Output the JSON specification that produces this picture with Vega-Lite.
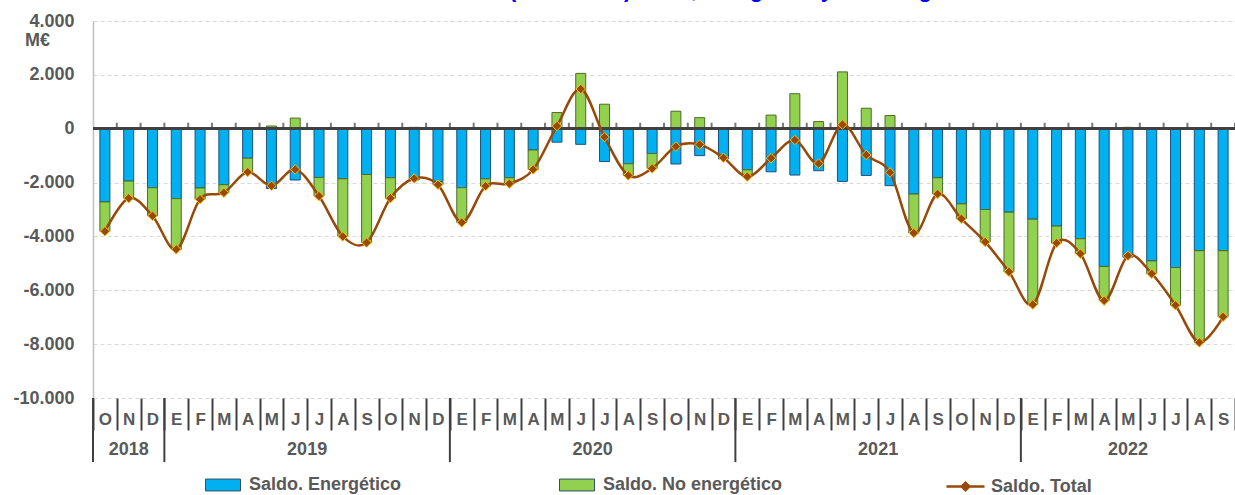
{
  "$schema": "https://vega.github.io/schema/vega-lite/v6.json",
  "width": 1142,
  "height": 377,
  "autosize": {"type": "none"},
  "padding": {"left": 93, "top": 21, "right": 0, "bottom": 97},
  "background": "white",
  "title": {
    "text": "Gráf. Saldo comercial (millones €): total, energético y no energético",
    "subtitle": "______________________________________________________________________",
    "color": "#0000FF",
    "subtitleColor": "#0000FF",
    "font": "Liberation Sans",
    "subtitleFont": "Liberation Sans",
    "fontSize": 22,
    "subtitleFontSize": 22,
    "fontWeight": "bold",
    "subtitleFontWeight": "bold",
    "subtitlePadding": -22,
    "anchor": "middle",
    "frame": "group",
    "dx": -34,
    "offset": 10
  },
  "datasets": {
    "meses": [
      {"mes": "2018_10", "energetico": -2720, "no_energetico": -1090, "total": -3810},
      {"mes": "2018_11", "energetico": -1945, "no_energetico": -635, "total": -2580},
      {"mes": "2018_12", "energetico": -2190, "no_energetico": -1045, "total": -3235},
      {"mes": "2019_01", "energetico": -2595, "no_energetico": -1885, "total": -4480},
      {"mes": "2019_02", "energetico": -2200, "no_energetico": -420, "total": -2620},
      {"mes": "2019_03", "energetico": -2080, "no_energetico": -295, "total": -2375},
      {"mes": "2019_04", "energetico": -1095, "no_energetico": -515, "total": -1610},
      {"mes": "2019_05", "energetico": -2220, "no_energetico": 100, "total": -2120},
      {"mes": "2019_06", "energetico": -1905, "no_energetico": 395, "total": -1510},
      {"mes": "2019_07", "energetico": -1810, "no_energetico": -690, "total": -2500},
      {"mes": "2019_08", "energetico": -1860, "no_energetico": -2140, "total": -4000},
      {"mes": "2019_09", "energetico": -1700, "no_energetico": -2530, "total": -4230},
      {"mes": "2019_10", "energetico": -1820, "no_energetico": -760, "total": -2580},
      {"mes": "2019_11", "energetico": -1900, "no_energetico": 50, "total": -1850},
      {"mes": "2019_12", "energetico": -1970, "no_energetico": -110, "total": -2080},
      {"mes": "2020_01", "energetico": -2190, "no_energetico": -1290, "total": -3480},
      {"mes": "2020_02", "energetico": -1860, "no_energetico": -270, "total": -2130},
      {"mes": "2020_03", "energetico": -1820, "no_energetico": -220, "total": -2040},
      {"mes": "2020_04", "energetico": -790, "no_energetico": -725, "total": -1515},
      {"mes": "2020_05", "energetico": -500, "no_energetico": 600, "total": 100},
      {"mes": "2020_06", "energetico": -580, "no_energetico": 2055, "total": 1475},
      {"mes": "2020_07", "energetico": -1220, "no_energetico": 910, "total": -310},
      {"mes": "2020_08", "energetico": -1300, "no_energetico": -435, "total": -1735},
      {"mes": "2020_09", "energetico": -920, "no_energetico": -555, "total": -1475},
      {"mes": "2020_10", "energetico": -1310, "no_energetico": 650, "total": -660},
      {"mes": "2020_11", "energetico": -1000, "no_energetico": 410, "total": -590},
      {"mes": "2020_12", "energetico": -1120, "no_energetico": 40, "total": -1080},
      {"mes": "2021_01", "energetico": -1525, "no_energetico": -255, "total": -1780},
      {"mes": "2021_02", "energetico": -1600, "no_energetico": 505, "total": -1095},
      {"mes": "2021_03", "energetico": -1720, "no_energetico": 1300, "total": -420},
      {"mes": "2021_04", "energetico": -1560, "no_energetico": 265, "total": -1295},
      {"mes": "2021_05", "energetico": -1955, "no_energetico": 2110, "total": 155},
      {"mes": "2021_06", "energetico": -1735, "no_energetico": 760, "total": -975},
      {"mes": "2021_07", "energetico": -2115, "no_energetico": 490, "total": -1625},
      {"mes": "2021_08", "energetico": -2425, "no_energetico": -1450, "total": -3875},
      {"mes": "2021_09", "energetico": -1820, "no_energetico": -605, "total": -2425},
      {"mes": "2021_10", "energetico": -2790, "no_energetico": -555, "total": -3345},
      {"mes": "2021_11", "energetico": -3000, "no_energetico": -1205, "total": -4205},
      {"mes": "2021_12", "energetico": -3100, "no_energetico": -2215, "total": -5315},
      {"mes": "2022_01", "energetico": -3360, "no_energetico": -3170, "total": -6530},
      {"mes": "2022_02", "energetico": -3615, "no_energetico": -630, "total": -4245},
      {"mes": "2022_03", "energetico": -4085, "no_energetico": -555, "total": -4640},
      {"mes": "2022_04", "energetico": -5115, "no_energetico": -1270, "total": -6385},
      {"mes": "2022_05", "energetico": -4770, "no_energetico": 50, "total": -4720},
      {"mes": "2022_06", "energetico": -4910, "no_energetico": -475, "total": -5385},
      {"mes": "2022_07", "energetico": -5155, "no_energetico": -1400, "total": -6555},
      {"mes": "2022_08", "energetico": -4530, "no_energetico": -3405, "total": -7935},
      {"mes": "2022_09", "energetico": -4530, "no_energetico": -2455, "total": -6985}
    ],
    "anios": [
      {"anio": "2018", "inicio": "2018_10", "centro": "2018_11", "meses": 3},
      {"anio": "2019", "inicio": "2019_01", "centro": "2019_06", "meses": 12},
      {"anio": "2020", "inicio": "2020_01", "centro": "2020_06", "meses": 12},
      {"anio": "2021", "inicio": "2021_01", "centro": "2021_06", "meses": 12},
      {"anio": "2022", "inicio": "2022_01", "centro": "2022_05", "meses": 9}
    ]
  },
  "data": {"name": "meses"},
  "config": {
    "font": "Liberation Sans",
    "view": {"stroke": null},
    "axis": {"labelFont": "Liberation Sans", "titleFont": "Liberation Sans"},
    "legend": {"labelFont": "Liberation Sans"}
  },
  "layer": [
    {
      "transform": [{"fold": ["energetico", "no_energetico"], "as": ["serie", "valor"]}],
      "mark": {"type": "bar", "size": 10, "strokeWidth": 1},
      "encoding": {
        "x": {
          "field": "mes",
          "type": "ordinal",
          "scale": {"paddingInner": 0, "paddingOuter": 0},
          "axis": {
            "orient": "bottom",
            "title": null,
            "domain": false,
            "grid": false,
            "tickBand": "extent",
            "tickSize": 32,
            "tickWidth": 2,
            "tickColor": "#404040",
            "labelAngle": 0,
            "labelPadding": -11,
            "labelBaseline": "middle",
            "labelFontSize": 17,
            "labelFontWeight": "bold",
            "labelColor": "#595959",
            "labelExpr": "datum.value ? ['E','F','M','A','M','J','J','A','S','O','N','D'][toNumber(slice(datum.value, 5)) - 1] : ''"
          }
        },
        "y": {
          "field": "valor",
          "type": "quantitative",
          "stack": "zero",
          "scale": {"domain": [-10000, 4000], "nice": false},
          "axis": {
            "tickCount": 7,
            "labelExpr": "(datum.value < 0 ? '-' : '') + replace(format(abs(datum.value), ','), ',', '.')",
            "labelFontSize": 18,
            "labelFontWeight": "bold",
            "labelColor": "#595959",
            "labelPadding": 19,
            "ticks": false,
            "domainColor": "#BFBFBF",
            "domainWidth": 1.5,
            "gridColor": "#D9D9D9",
            "gridDash": [4, 3],
            "title": "M€",
            "titleAngle": 0,
            "titleX": -56,
            "titleY": 19,
            "titleAlign": "center",
            "titleBaseline": "middle",
            "titleFontSize": 18,
            "titleFontWeight": "bold",
            "titleColor": "#595959"
          }
        },
        "color": {
          "field": "serie",
          "type": "nominal",
          "scale": {"domain": ["energetico", "no_energetico"], "range": ["#00B0F0", "#92D050"]},
          "legend": {
            "orient": "none",
            "legendX": 112,
            "legendY": 446,
            "direction": "horizontal",
            "columns": 2,
            "title": null,
            "padding": 0,
            "symbolType": "M-1,-0.34L1,-0.34L1,0.34L-1,0.34Z",
            "symbolSize": 1225,
            "symbolStrokeColor": "#2F5060",
            "symbolStrokeWidth": 1,
            "labelOffset": 8,
            "columnPadding": 155,
            "labelFontSize": 18,
            "labelFontWeight": "bold",
            "labelColor": "#595959",
            "labelLimit": 400,
            "labelExpr": "datum.value == 'energetico' ? 'Saldo. Energético' : 'Saldo. No energético'"
          }
        },
        "stroke": {"condition": {"test": "datum.serie === 'energetico'", "value": "#1F4E79"}, "value": "#4E6B2A"},
        "order": {"field": "serie", "sort": "ascending"}
      }
    },
    {
      "mark": {"type": "rule", "color": "#404040", "strokeWidth": 2.5},
      "encoding": {"y": {"datum": 0, "type": "quantitative"}}
    },
    {
      "mark": {"type": "tick", "orient": "vertical", "size": 6, "thickness": 2, "color": "#404040", "yOffset": -3},
      "encoding": {
        "x": {"field": "mes", "type": "ordinal", "bandPosition": 1},
        "y": {"datum": 0, "type": "quantitative"}
      }
    },
    {
      "data": {"name": "anios"},
      "mark": {"type": "rule", "color": "#404040", "strokeWidth": 2},
      "encoding": {
        "x": {"field": "inicio", "type": "ordinal", "bandPosition": 0},
        "y": {"datum": -10000, "type": "quantitative"},
        "y2": {"datum": -12380}
      }
    },
    {
      "data": {"name": "anios"},
      "transform": [{"filter": "datum.meses == 12"}],
      "mark": {"type": "text", "fontSize": 18, "fontWeight": "bold", "color": "#595959", "baseline": "middle", "align": "center"},
      "encoding": {
        "x": {"field": "centro", "type": "ordinal", "bandPosition": 1},
        "y": {"datum": -11930, "type": "quantitative"},
        "text": {"field": "anio"}
      }
    },
    {
      "data": {"name": "anios"},
      "transform": [{"filter": "datum.meses != 12"}],
      "mark": {"type": "text", "fontSize": 18, "fontWeight": "bold", "color": "#595959", "baseline": "middle", "align": "center"},
      "encoding": {
        "x": {"field": "centro", "type": "ordinal", "bandPosition": 0.5},
        "y": {"datum": -11930, "type": "quantitative"},
        "text": {"field": "anio"}
      }
    },
    {
      "mark": {"type": "line", "interpolate": "cardinal", "strokeWidth": 2.5},
      "encoding": {
        "x": {"field": "mes", "type": "ordinal"},
        "y": {"field": "total", "type": "quantitative"},
        "stroke": {
          "datum": "Saldo. Total",
          "scale": {"range": ["#984807"]},
          "legend": {
            "orient": "none",
            "legendX": 852,
            "legendY": 445,
            "title": null,
            "padding": 0,
            "symbolType": "M-1,0L1,0M-0.2,0L0,-0.2L0.2,0L0,0.2Z",
            "symbolSize": 1444,
            "symbolStrokeWidth": 2.5,
            "symbolFillColor": "#984807",
            "labelOffset": 5,
            "labelFontSize": 18,
            "labelFontWeight": "bold",
            "labelColor": "#595959"
          }
        }
      }
    },
    {
      "mark": {"type": "point", "shape": "diamond", "filled": true, "fill": "#984807", "stroke": "#FFC000", "strokeWidth": 1, "size": 90, "opacity": 1},
      "encoding": {
        "x": {"field": "mes", "type": "ordinal"},
        "y": {"field": "total", "type": "quantitative"}
      }
    }
  ]
}
